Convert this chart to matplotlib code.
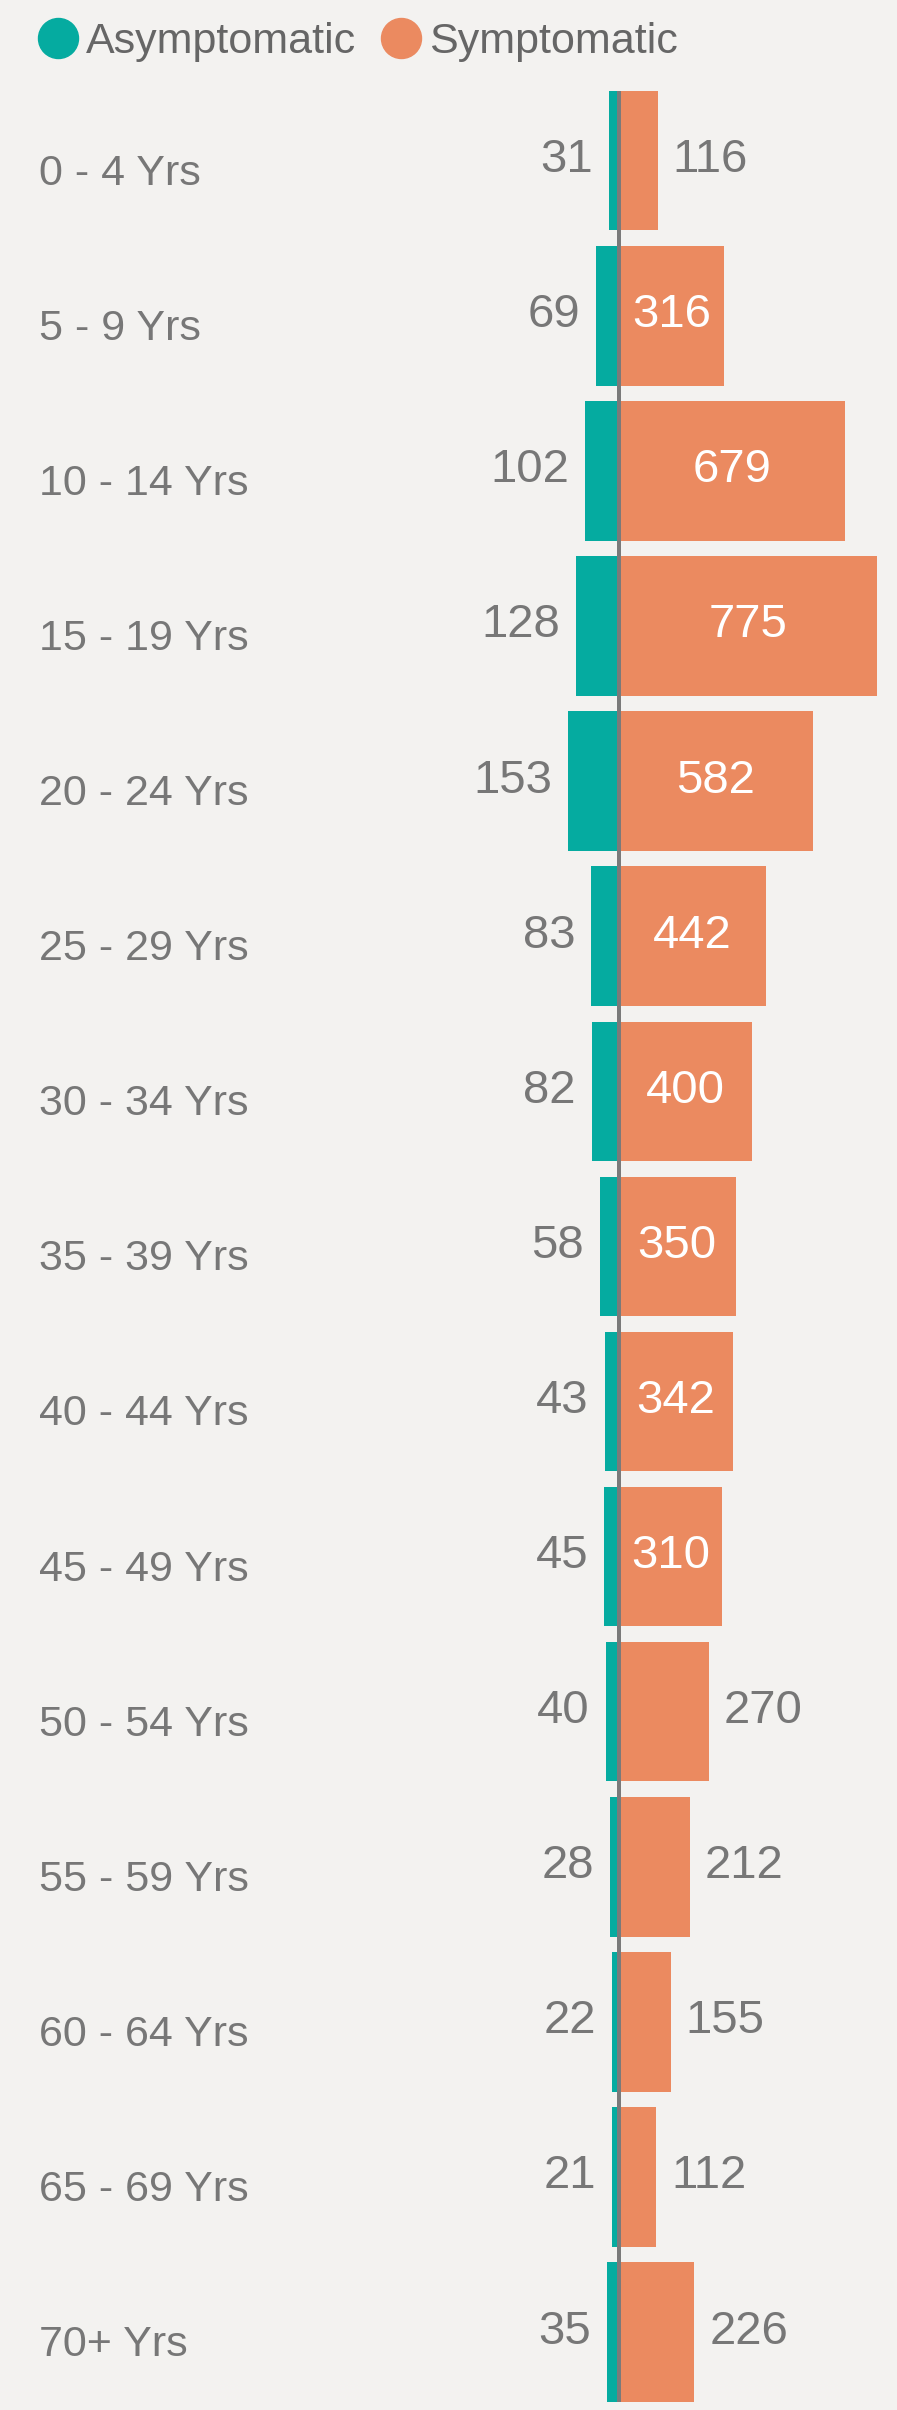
import matplotlib
matplotlib.use('Agg')
import matplotlib.pyplot as plt
from matplotlib.lines import Line2D

age_groups = ['0 - 4 Yrs', '5 - 9 Yrs', '10 - 14 Yrs', '15 - 19 Yrs', '20 - 24 Yrs',
              '25 - 29 Yrs', '30 - 34 Yrs', '35 - 39 Yrs', '40 - 44 Yrs', '45 - 49 Yrs',
              '50 - 54 Yrs', '55 - 59 Yrs', '60 - 64 Yrs', '65 - 69 Yrs', '70+ Yrs']
asymptomatic = [31, 69, 102, 128, 153, 83, 82, 58, 43, 45, 40, 28, 22, 21, 35]
symptomatic = [116, 316, 679, 775, 582, 442, 400, 350, 342, 310, 270, 212, 155, 112, 226]
series_names = ['Asymptomatic', 'Symptomatic']

teal = '#05ABA0'
orange = '#EB8A60'
grey = '#777777'
bg = '#F3F2F0'

plt.rcParams['font.family'] = ['Liberation Sans', 'DejaVu Sans']

W, H, DPI = 897, 2410, 100
PX = 72.0 / DPI  # points per pixel

fig = plt.figure(figsize=(W / DPI, H / DPI), dpi=DPI, facecolor=bg)
ax = fig.add_axes([0, 0, 1, 1])
ax.set_facecolor(bg)

# pixel layout of the plot area
zero_px = 619
scale = 0.333          # px per unit
first_center = 160.7
pitch = 155.1
ax.set_xlim(-zero_px / scale, (W - zero_px) / scale)
ax.set_ylim((H - first_center) / pitch, -first_center / pitch)

ypos = list(range(len(age_groups)))
ax.barh(ypos, [-a for a in asymptomatic], height=0.9, color=teal)
ax.barh(ypos, symptomatic, height=0.9, color=orange)
ax.vlines(0, -0.45, len(age_groups) - 0.55, color='#7a7a7a', lw=4 * PX, zorder=3)

for i, label in enumerate(age_groups):
    ax.annotate(label, xy=(39 / W, i), xycoords=('axes fraction', 'data'),
                xytext=(0, -24 * PX), textcoords='offset points',
                ha='left', va='baseline', fontsize=31, color=grey)

for i, (a, s) in enumerate(zip(asymptomatic, symptomatic)):
    ax.annotate(str(a), xy=(-a, i), xytext=(-16 * PX, -11.5 * PX),
                textcoords='offset points', ha='right', va='baseline',
                fontsize=34, color=grey)
    if s >= 300:
        ax.annotate(str(s), xy=(s / 2, i), xytext=(0, -11.5 * PX),
                    textcoords='offset points', ha='center', va='baseline',
                    fontsize=34, color='white')
    else:
        ax.annotate(str(s), xy=(s, i), xytext=(15 * PX, -11.5 * PX),
                    textcoords='offset points', ha='left', va='baseline',
                    fontsize=34, color=grey)

ax.axis('off')

handles = [Line2D([], [], marker='o', linestyle='', markersize=40 * PX, color=c)
           for c in (teal, orange)]
fig.legend(handles, series_names, loc='upper left',
           bbox_to_anchor=(37 / W, 1 - 22 / H), ncol=2, frameon=False,
           fontsize=31, labelcolor='#666666', handlelength=0.97, handletextpad=0.17,
           columnspacing=0.55, borderpad=0, borderaxespad=0)

fig.savefig('out.png', dpi=DPI, facecolor=bg)
